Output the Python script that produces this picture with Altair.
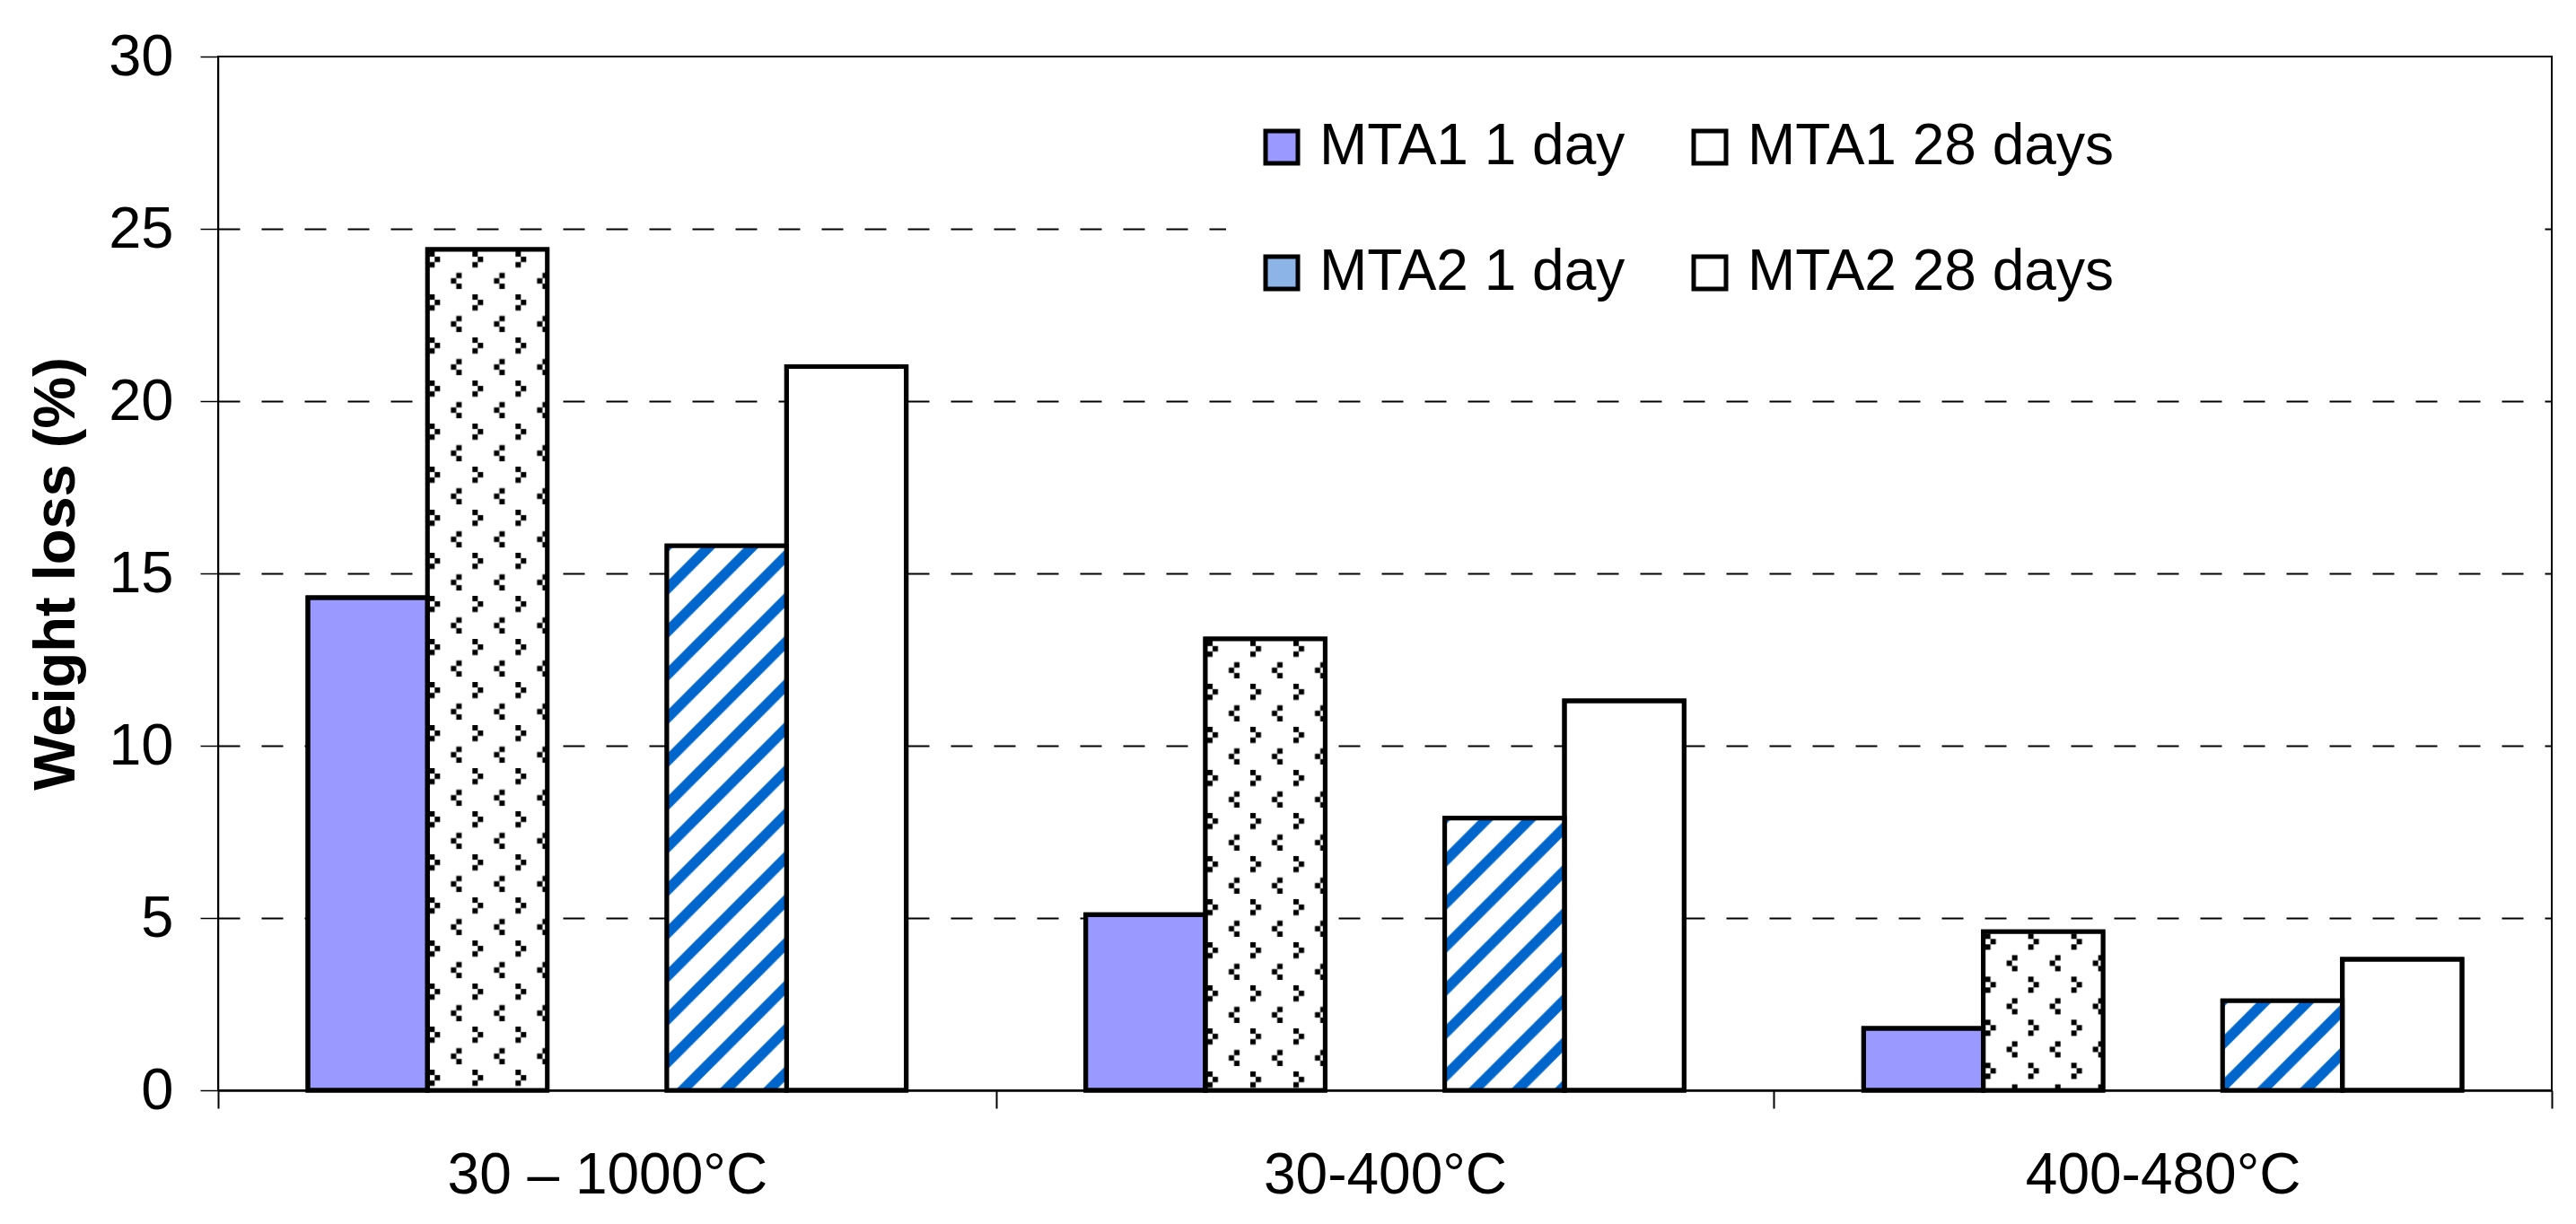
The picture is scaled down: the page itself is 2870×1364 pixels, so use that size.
import base64

import pandas as pd
import altair as alt


# ================== DATA ==================

categories = ["30 – 1000°C", "30-400°C", "400-480°C"]
series = ["MTA1 1 day", "MTA1 28 days", "MTA2 1 day", "MTA2 28 days"]

mta1_1day = [14.3, 5.1, 1.8]
mta1_28days = [24.4, 13.1, 4.6]
mta2_1day = [15.8, 7.9, 2.6]
mta2_28days = [21.0, 11.3, 3.8]

y_ticks = [0, 5, 10, 15, 20, 25, 30]


# ================== STYLE ==================

FONT = "Liberation Sans, Arial, sans-serif"

# Excel leaves an empty slot between the MTA1 and MTA2 pairs
SLOTS = ["MTA1 1 day", "MTA1 28 days", "gap", "MTA2 1 day", "MTA2 28 days"]
FILLS = ["#9999ff", "#ffffff", "#8db4e6", "#ffffff"]


def pattern_uri(tile):
    """Tile an SVG pattern over whatever box the image mark gets (no viewBox, so no stretching)."""
    svg = (
        '<svg xmlns="http://www.w3.org/2000/svg"><defs>'
        '<pattern id="p" width="48" height="48" patternUnits="userSpaceOnUse">'
        + tile
        + "</pattern></defs>"
        '<rect width="100%" height="100%" fill="#ffffff"/>'
        '<rect width="100%" height="100%" fill="url(#p)"/></svg>'
    )
    return "data:image/svg+xml;base64," + base64.b64encode(svg.encode()).decode()


DOTS = pattern_uri(
    "".join(
        f'<rect x="{px}" y="{py}" width="6" height="6" fill="#000"/>'
        for px, py in [(2, 2), (8, 8), (2, 14), (32, 26), (26, 32), (32, 38)]
    )
)
STRIPES = pattern_uri(
    '<path d="M-24,24L24,-24M-24,72L72,-24M24,72L72,24" '
    'stroke="#0066cc" stroke-width="11.5"/>'
)


# ================== CHART ==================

values = [mta1_1day, mta1_28days, mta2_1day, mta2_28days]
df = pd.DataFrame(
    [
        {"category": c, "series": s, "value": v}
        for s, vals in zip(series, values)
        for c, v in zip(categories, vals)
    ]
)

base = alt.Chart(df).encode(
    x=alt.X(
        "category:N",
        sort=categories,
        scale=alt.Scale(paddingInner=0, paddingOuter=0),
        axis=alt.Axis(
            title=None,
            labelAngle=0,
            labelFont=FONT,
            labelFontSize=64,
            labelColor="black",
            labelPadding=43,
            labelLimit=1000,
            tickBand="extent",
            tickSize=20,
            tickColor="black",
            tickWidth=2,
            domainColor="black",
            domainWidth=2.5,
            grid=False,
        ),
    ),
    xOffset=alt.XOffset(
        "series:N",
        scale=alt.Scale(domain=SLOTS, paddingInner=0, paddingOuter=0.75),
    ),
    y=alt.Y(
        "value:Q",
        scale=alt.Scale(domain=[0, 30], nice=False),
        axis=alt.Axis(
            title="Weight loss (%)",
            values=y_ticks,
            titleFont=FONT,
            titleFontSize=65,
            titleFontWeight="bold",
            titleColor="black",
            titlePadding=24,
            labelFont=FONT,
            labelFontSize=65,
            labelColor="black",
            labelPadding=30,
            tickSize=20,
            tickColor="black",
            tickWidth=1.5,
            domainColor="black",
            domainWidth=1.5,
            grid=True,
            gridColor="black",
            gridWidth=1.8,
            gridDash=[24, 24],
            gridOpacity={
                "condition": {"test": "datum.value === 0 || datum.value === 30", "value": 0},
                "value": 1,
            },
        ),
    ),
)

bars = base.mark_bar(stroke="black", strokeWidth=5).encode(
    fill=alt.Fill(
        "series:N",
        scale=alt.Scale(domain=series, range=FILLS),
        legend=alt.Legend(
            orient="none",
            legendX=1123,
            legendY=39,
            direction="horizontal",
            columns=2,
            # invisible title on the right only widens the white legend box
            title="MTA1 28 day",
            titleOrient="right",
            titleOpacity=0,
            titleFontSize=64,
            titlePadding=290,
            labelFont=FONT,
            labelFontSize=64,
            labelColor="black",
            labelLimit=1000,
            labelOffset=10,
            symbolType="square",
            symbolSize=1296,
            symbolStrokeColor="black",
            symbolStrokeWidth=5,
            rowPadding=76,
            columnPadding=62,
            padding=30,
            fillColor="white",
        ),
    )
)

dotted = (
    base.transform_filter(alt.datum.series == "MTA1 28 days")
    .mark_image(aspect=False)
    .encode(url=alt.value(DOTS))
)

striped = (
    base.transform_filter(alt.datum.series == "MTA2 1 day")
    .mark_image(aspect=False)
    .encode(url=alt.value(STRIPES))
)

outlines = base.mark_bar(fill="transparent", stroke="black", strokeWidth=5)

chart = (
    alt.layer(bars, dotted, striped, outlines)
    .properties(
        width=2600,
        height=1152,
        autosize=alt.AutoSizeParams(type="none"),
        padding={"left": 235, "top": 55, "right": 19, "bottom": 140},
    )
    .configure(background="white")
    .configure_view(stroke="black", strokeWidth=2)
)

chart.save("out.html", embed_options={"renderer": "svg", "actions": False})
